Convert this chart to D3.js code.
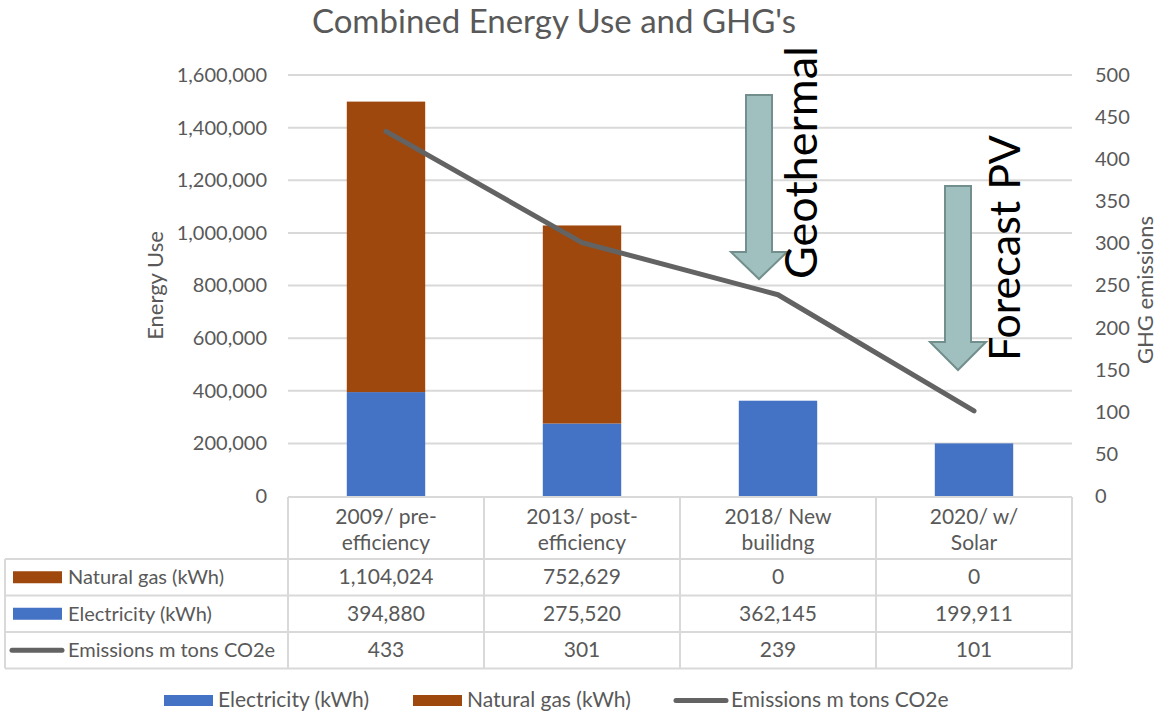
<!DOCTYPE html>
<html>
<head>
<meta charset="utf-8">
<script src="https://cdn.jsdelivr.net/npm/d3@7"></script>
<style>
  body { margin: 0; background: #fff; }
  svg { font-family: Lato, "Open Sans", sans-serif; }
</style>
</head>
<body>
<svg id="chart" width="1158" height="713"></svg>
<script>
// data
const categories = [["2009/ pre-", "efficiency"], ["2013/ post-", "efficiency"], ["2018/ New", "builidng"], ["2020/ w/", "Solar"]];
const electricity = [394880, 275520, 362145, 199911];
const naturalGas = [1104024, 752629, 0, 0];
const emissions = [433, 301, 239, 101];
const leftTicks = [0, 200000, 400000, 600000, 800000, 1000000, 1200000, 1400000, 1600000];
const rightTicks = [0, 50, 100, 150, 200, 250, 300, 350, 400, 450, 500];

const textColor = "#595959",
    gridColor = "#d9d9d9",
    elecColor = "#4472c4",
    gasColor = "#9e480e",
    lineColor = "#636363";

let svg = d3.select("#chart");

let plot = {left: 288, right: 1072, top: 75, bottom: 496};

let x = d3.scaleBand()
    .domain(d3.range(categories.length))
    .range([plot.left, plot.right])
    .padding(0);

let barWidth = x.bandwidth() * 0.4;

let yLeft = d3.scaleLinear().domain([0, 1600000]).range([plot.bottom, plot.top]);
let yRight = d3.scaleLinear().domain([0, 500]).range([plot.bottom, plot.top]);

let formatNumber = d3.format(",.0f");

// title
svg.append("text")
    .attr("x", 554)
    .attr("y", 33)
    .attr("text-anchor", "middle")
    .attr("font-size", 33)
    .attr("fill", textColor)
    .text("Combined Energy Use and GHG's");

// gridlines
svg.append("g")
    .selectAll("line")
    .data(leftTicks.filter(d => d > 0))
    .enter().append("line")
    .attr("x1", plot.left)
    .attr("x2", plot.right)
    .attr("y1", d => yLeft(d))
    .attr("y2", d => yLeft(d))
    .attr("stroke", gridColor)
    .attr("stroke-width", 2);

// left axis
let leftAxis = svg.append("g")
    .attr("transform", "translate(" + (plot.left - 21) + ",0)")
    .call(d3.axisLeft(yLeft).tickValues(leftTicks).tickFormat(formatNumber).tickSize(0).tickPadding(0));
leftAxis.select(".domain").remove();
leftAxis.selectAll("text")
    .attr("font-size", 20)
    .attr("font-family", "Lato, sans-serif")
    .attr("fill", textColor);

// right axis
let rightAxis = svg.append("g")
    .attr("transform", "translate(" + (plot.right + 23) + ",0)")
    .call(d3.axisRight(yRight).tickValues(rightTicks).tickSize(0).tickPadding(0));
rightAxis.select(".domain").remove();
rightAxis.selectAll("text")
    .attr("font-size", 20)
    .attr("font-family", "Lato, sans-serif")
    .attr("fill", textColor);

// axis titles
svg.append("text")
    .attr("transform", "translate(163," + ((plot.top + plot.bottom) / 2) + ") rotate(-90)")
    .attr("text-anchor", "middle")
    .attr("font-size", 22)
    .attr("fill", textColor)
    .text("Energy Use");

svg.append("text")
    .attr("transform", "translate(1153,290) rotate(-90)")
    .attr("text-anchor", "middle")
    .attr("font-size", 22)
    .attr("fill", textColor)
    .text("GHG emissions");

// stacked bars
let bars = svg.append("g");
bars.selectAll("rect.elec")
    .data(electricity)
    .enter().append("rect")
    .attr("class", "elec")
    .attr("x", (d, i) => x(i) + (x.bandwidth() - barWidth) / 2)
    .attr("width", barWidth)
    .attr("y", d => yLeft(d))
    .attr("height", d => yLeft(0) - yLeft(d))
    .attr("fill", elecColor);

bars.selectAll("rect.gas")
    .data(naturalGas)
    .enter().append("rect")
    .attr("class", "gas")
    .attr("x", (d, i) => x(i) + (x.bandwidth() - barWidth) / 2)
    .attr("width", barWidth)
    .attr("y", (d, i) => yLeft(d + electricity[i]))
    .attr("height", d => yLeft(0) - yLeft(d))
    .attr("fill", gasColor);

// emissions line
let line = d3.line()
    .x((d, i) => x(i) + x.bandwidth() / 2)
    .y(d => yRight(d));

svg.append("path")
    .datum(emissions)
    .attr("d", line)
    .attr("fill", "none")
    .attr("stroke", lineColor)
    .attr("stroke-width", 5)
    .attr("stroke-linecap", "round")
    .attr("stroke-linejoin", "round");

// annotation arrows (pixel positioned shapes)
const arrows = [
    {label: "Geothermal", size: 45, cx: 759, top: 95, headTop: 252, tip: 279, textX: 817, textY: 279},
    {label: "Forecast PV", size: 43, cx: 958, top: 186, headTop: 342, tip: 370, textX: 1020, textY: 361}
];

let arrowG = svg.append("g");
arrows.forEach(a => {
    let sw = 13, hw = 28;
    let pts = [
        [a.cx - sw, a.top], [a.cx + sw, a.top], [a.cx + sw, a.headTop],
        [a.cx + hw, a.headTop], [a.cx, a.tip], [a.cx - hw, a.headTop],
        [a.cx - sw, a.headTop]
    ];
    arrowG.append("path")
        .attr("d", "M" + pts.join("L") + "Z")
        .attr("fill", "#9fc0be")
        .attr("stroke", "#738f8d")
        .attr("stroke-width", 2);
});
arrowG.selectAll("text")
    .data(arrows)
    .enter().append("text")
    .attr("transform", d => "translate(" + d.textX + "," + d.textY + ") rotate(-90)")
    .attr("font-size", d => d.size)
    .attr("fill", "#000")
    .text(d => d.label);

// data table
let table = svg.append("g");
let rowTop = 559, rowH = 36.5;
let tableLeft = 5;
let hLines = [
    {y: plot.bottom + 1, x1: plot.left, x2: plot.right},
    {y: rowTop, x1: tableLeft, x2: plot.right},
    {y: rowTop + rowH, x1: tableLeft, x2: plot.right},
    {y: rowTop + rowH * 2, x1: tableLeft, x2: plot.right},
    {y: rowTop + rowH * 3, x1: tableLeft, x2: plot.right}
];
table.selectAll("line.h")
    .data(hLines)
    .enter().append("line")
    .attr("x1", d => d.x1).attr("x2", d => d.x2)
    .attr("y1", d => d.y).attr("y2", d => d.y)
    .attr("stroke", gridColor).attr("stroke-width", 2);

let vLines = [plot.left].concat(d3.range(categories.length).map(i => x(i) + x.bandwidth()));
table.selectAll("line.v")
    .data(vLines)
    .enter().append("line")
    .attr("x1", d => d).attr("x2", d => d)
    .attr("y1", plot.bottom + 1).attr("y2", rowTop + rowH * 3)
    .attr("stroke", gridColor).attr("stroke-width", 2);
table.append("line")
    .attr("x1", tableLeft).attr("x2", tableLeft)
    .attr("y1", rowTop).attr("y2", rowTop + rowH * 3)
    .attr("stroke", gridColor).attr("stroke-width", 2);

// header category labels
categories.forEach((c, i) => {
    c.forEach((ln, j) => {
        table.append("text")
            .attr("x", x(i) + x.bandwidth() / 2)
            .attr("y", 524 + j * 26)
            .attr("text-anchor", "middle")
            .attr("font-size", 21)
            .attr("fill", textColor)
            .text(ln);
    });
});

const rows = [
    {name: "Natural gas (kWh)", values: naturalGas, key: "rect", color: gasColor},
    {name: "Electricity (kWh)", values: electricity, key: "rect", color: elecColor},
    {name: "Emissions m tons CO2e", values: emissions, key: "line", color: lineColor}
];

rows.forEach((r, k) => {
    let cy = rowTop + rowH * k + rowH / 2;
    if (r.key === "rect") {
        table.append("rect")
            .attr("x", 13).attr("y", cy - 6)
            .attr("width", 49).attr("height", 12)
            .attr("fill", r.color);
    } else {
        table.append("line")
            .attr("x1", 12).attr("x2", 62)
            .attr("y1", cy).attr("y2", cy)
            .attr("stroke", r.color).attr("stroke-width", 5)
            .attr("stroke-linecap", "round");
    }
    table.append("text")
        .attr("x", 68).attr("y", cy + 7)
        .attr("font-size", 20)
        .attr("fill", textColor)
        .text(r.name);
    r.values.forEach((v, i) => {
        table.append("text")
            .attr("x", x(i) + x.bandwidth() / 2)
            .attr("y", cy + 7)
            .attr("text-anchor", "middle")
            .attr("font-size", 21)
            .attr("fill", textColor)
            .text(formatNumber(v));
    });
});

// legend
const legendItems = [
    {name: "Electricity (kWh)", key: "rect", color: elecColor, x: 164},
    {name: "Natural gas (kWh)", key: "rect", color: gasColor, x: 413},
    {name: "Emissions m tons CO2e", key: "line", color: lineColor, x: 674}
];
let legend = svg.append("g");
legendItems.forEach(d => {
    if (d.key === "rect") {
        legend.append("rect")
            .attr("x", d.x).attr("y", 695)
            .attr("width", 49).attr("height", 11)
            .attr("fill", d.color);
    } else {
        legend.append("line")
            .attr("x1", d.x + 2).attr("x2", d.x + 52)
            .attr("y1", 700.5).attr("y2", 700.5)
            .attr("stroke", d.color).attr("stroke-width", 5)
            .attr("stroke-linecap", "round");
    }
    legend.append("text")
        .attr("x", d.x + (d.key === "rect" ? 54 : 57)).attr("y", 707)
        .attr("font-size", 21)
        .attr("fill", textColor)
        .text(d.name);
});
</script>
</body>
</html>
